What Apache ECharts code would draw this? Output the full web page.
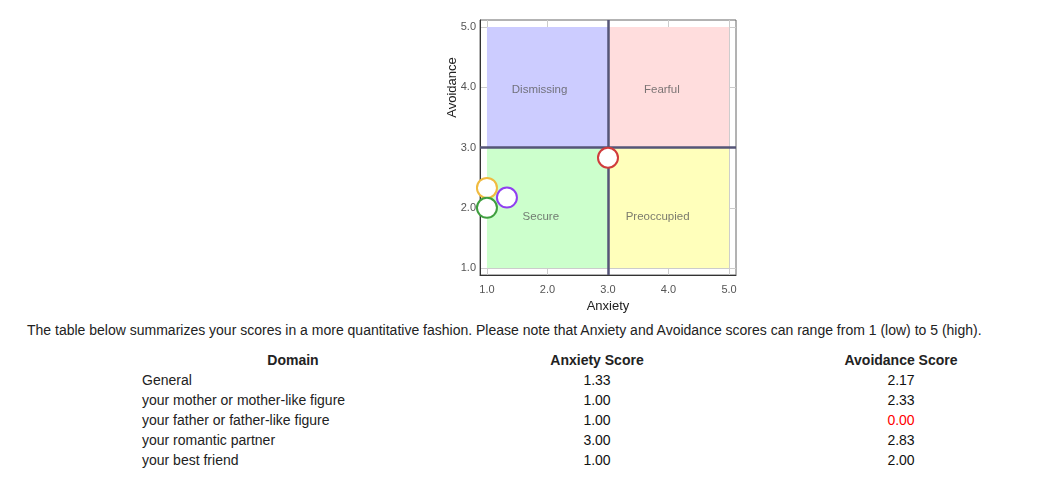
<!DOCTYPE html>
<html>
<head>
<meta charset="utf-8">
<script src="https://cdn.jsdelivr.net/npm/echarts@6/dist/echarts.min.js"></script>
<style>
  html, body { margin: 0; padding: 0; width: 1040px; height: 491px; overflow: hidden; background: #fff; }
  body { font-family: Arial, "Liberation Sans", sans-serif; color: #222; }
  #chart { position: absolute; left: 0; top: 0; width: 1040px; height: 318px; }
  #note { position: absolute; left: 27px; top: 321px; font-size: 14px; line-height: 18px; color: #222; white-space: nowrap; }
  #scores { position: absolute; left: 141px; top: 350px; width: 912px; border-collapse: collapse; table-layout: fixed; font-size: 14px; }
  #scores tr { height: 20px; }
  #scores th, #scores td { padding: 0 1px; height: 20px; line-height: 20px; white-space: nowrap; overflow: visible; }
  #scores th { font-weight: bold; text-align: center; color: #222; }
  #scores td { text-align: center; color: #111; }
  #scores td.dom { text-align: left; color: #222; }
  #scores td.bad { color: #ff0000; }
</style>
</head>
<body>
<div id="chart"></div>
<div id="note">The table below summarizes your scores in a more quantitative fashion. Please note that Anxiety and Avoidance scores can range from 1 (low) to 5 (high).</div>
<table id="scores">
  <colgroup><col style="width:304px"><col style="width:304px"><col style="width:304px"></colgroup>
  <thead><tr id="head"></tr></thead>
  <tbody id="rows"></tbody>
</table>
<script>
// ---- data ----
const tableHeaders = ["Domain", "Anxiety Score", "Avoidance Score"];
const domains = ["General", "your mother or mother-like figure", "your father or father-like figure", "your romantic partner", "your best friend"];
const anxietyScores = [1.33, 1.00, 1.00, 3.00, 1.00];
const avoidanceScores = [2.17, 2.33, 0.00, 2.83, 2.00];
const tickValues = [1, 2, 3, 4, 5];
const quadrantNames = ["Dismissing", "Fearful", "Secure", "Preoccupied"];
const quadrantX = [[1, 3], [3, 5], [1, 3], [3, 5]];
const quadrantY = [[3, 5], [3, 5], [1, 3], [1, 3]];
const quadrantLabelX = [1.87, 3.89, 1.89, 3.82];
const quadrantLabelY = [3.95, 3.95, 1.85, 1.85];
const dividerX = 3;
const dividerY = 3;

// ---- styles ----
const pointColors = ["#9040f0", "#f0bb40", "#4a7fd8", "#d03c3c", "#3f9f3f"];
const quadrantColors = ["#ccccff", "#ffdddd", "#ccffcc", "#ffffbb"];

// ---- table ----
document.getElementById('head').innerHTML = tableHeaders.map(h => '<th>' + h + '</th>').join('');
document.getElementById('rows').innerHTML = domains.map((d, i) =>
  '<tr><td class="dom">' + d + '</td><td>' + anxietyScores[i].toFixed(2) + '</td><td' +
  (avoidanceScores[i] < 1 ? ' class="bad"' : '') + '>' + avoidanceScores[i].toFixed(2) + '</td></tr>'
).join('');

// ---- chart ----
const chart = echarts.init(document.getElementById('chart'), null, { renderer: 'canvas' });
const FONT = 'Arial, "Liberation Sans", sans-serif';
const axisCommon = {
  type: 'value',
  min: 0.885,
  max: 5.115,
  axisLine: { show: true, lineStyle: { color: '#333', width: 1 } },
  axisTick: { show: false, customValues: tickValues },
  axisLabel: { customValues: tickValues, color: '#555', fontSize: 11, fontFamily: FONT, formatter: v => v.toFixed(1) },
  splitLine: { show: true, lineStyle: { color: '#cccccc', width: 1 } },
  nameTextStyle: { color: '#222', fontSize: 13, fontFamily: FONT }
};
chart.setOption({
  animation: false,
  grid: { left: 480, top: 20, width: 256, height: 255, show: true, borderColor: '#666', borderWidth: 1, backgroundColor: '#fff', containLabel: false },
  xAxis: Object.assign({}, axisCommon, {
    name: 'Anxiety', nameLocation: 'middle', nameGap: 24,
    axisLabel: Object.assign({}, axisCommon.axisLabel, { margin: 9 })
  }),
  yAxis: Object.assign({}, axisCommon, {
    name: 'Avoidance', nameLocation: 'middle', nameGap: 21, nameMoveOverlap: false,
    axisLabel: Object.assign({}, axisCommon.axisLabel, { margin: 4 }),
    nameTextStyle: Object.assign({}, axisCommon.nameTextStyle, { padding: [0, 0, 0, 120] })
  }),
  series: [
    {
      type: 'scatter',
      silent: true,
      symbolSize: 0,
      data: quadrantNames.map((n, i) => ({ name: n, value: [quadrantLabelX[i], quadrantLabelY[i]] })),
      label: { show: true, position: 'inside', formatter: p => p.name, color: '#5a5a5a', fontSize: 11.5, fontFamily: FONT },
      markArea: {
        silent: true,
        data: quadrantNames.map((n, i) => [
          { xAxis: quadrantX[i][0], yAxis: quadrantY[i][0], itemStyle: { color: quadrantColors[i], opacity: 1 } },
          { xAxis: quadrantX[i][1], yAxis: quadrantY[i][1] }
        ])
      },
      markLine: {
        silent: true,
        symbol: 'none',
        label: { show: false },
        lineStyle: { color: '#555577', width: 2.5, type: 'solid' },
        data: [{ xAxis: dividerX }, { yAxis: dividerY }]
      },
      z: 2
    },
    {
      type: 'scatter',
      clip: true,
      symbol: 'circle',
      symbolSize: 20,
      z: 5,
      data: domains.map((d, i) => ({
        name: d,
        value: [anxietyScores[i], avoidanceScores[i]],
        itemStyle: { color: '#fff', borderColor: pointColors[i], borderWidth: 2, opacity: 1 }
      }))
    }
  ]
});
</script>
</body>
</html>
